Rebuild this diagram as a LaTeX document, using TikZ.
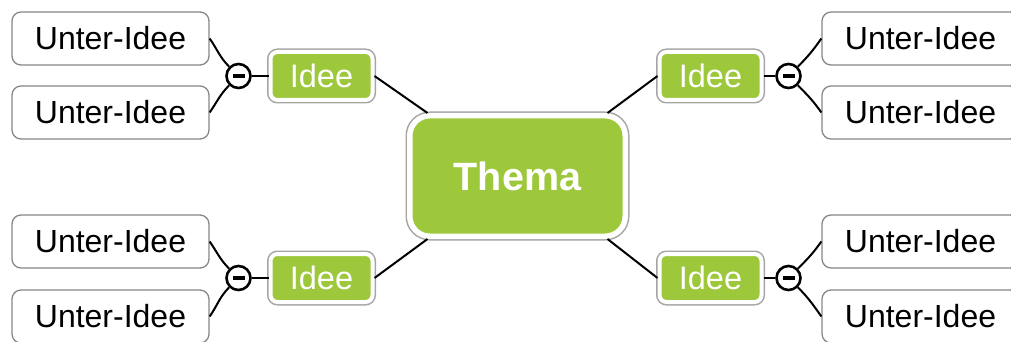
\documentclass[tikz,border=0pt]{standalone}
\usepackage{fontspec}
\setmainfont{Liberation Sans}
\definecolor{mapgreen}{RGB}{157,200,60}
\definecolor{framegray}{RGB}{165,165,165}
\definecolor{boxgray}{RGB}{135,135,135}
\tikzset{
  subidea/.style={draw=boxgray, line width=1.3pt, fill=white, rounded corners=9pt,
    minimum width=197pt, minimum height=53pt, inner sep=0pt,
    font=\fontsize{32}{32}\selectfont},
  idea/.style={fill=mapgreen, draw=white, line width=4pt, rounded corners=7pt,
    preaction={draw=framegray, line width=7pt},
    minimum width=102pt, minimum height=48pt, inner sep=0pt, text=white,
    font=\fontsize{32.5}{32.5}\selectfont},
  topic/.style={fill=mapgreen, draw=white, line width=5.5pt, rounded corners=20pt,
    preaction={draw=framegray, line width=8.5pt},
    minimum width=215.5pt, minimum height=120.5pt, inner sep=0pt, text=white,
    font=\bfseries\fontsize{39.5}{39.5}\selectfont},
  fold/.style={circle, draw, line width=2.6pt, fill=white, minimum size=24pt, inner sep=0pt},
  link/.style={line width=2pt}
}
\begin{document}
\begin{tikzpicture}[x=1pt, y=1pt]
\useasboundingbox (0,0) rectangle (1011,-342);
% Draw main topic
\node[topic] (thema) at (517.5,-176) {Thema};
% Draw ideas
\node[idea] (ideaTL) at (321.5,-76) {Idee};
\node[idea] (ideaBL) at (321.5,-278) {Idee};
\node[idea] (ideaTR) at (710.5,-76) {Idee};
\node[idea] (ideaBR) at (710.5,-278) {Idee};
% Draw fold markers
\node[fold] (foldTL) at (238.5,-76) {\rule[-1.75pt]{12pt}{3.5pt}};
\node[fold] (foldBL) at (238.5,-278) {\rule[-1.75pt]{12pt}{3.5pt}};
\node[fold] (foldTR) at (788.5,-76) {\rule[-1.75pt]{12pt}{3.5pt}};
\node[fold] (foldBR) at (788.5,-278) {\rule[-1.75pt]{12pt}{3.5pt}};
% Draw sub-ideas
\node[subidea] (subTLa) at (110.5,-38.5) {Unter-Idee};
\node[subidea] (subTLb) at (110.5,-112.5) {Unter-Idee};
\node[subidea] (subBLa) at (110.5,-241.5) {Unter-Idee};
\node[subidea] (subBLb) at (110.5,-316.5) {Unter-Idee};
\node[subidea] (subTRa) at (920.5,-38.5) {Unter-Idee};
\node[subidea] (subTRb) at (920.5,-112.5) {Unter-Idee};
\node[subidea] (subBRa) at (920.5,-241.5) {Unter-Idee};
\node[subidea] (subBRb) at (920.5,-316.5) {Unter-Idee};
% Connect topic and ideas
\draw[link] (ideaTL.east) -- (thema.145);
\draw[link] (ideaBL.east) -- (thema.215);
\draw[link] (ideaTR.west) -- (thema.35);
\draw[link] (ideaBR.west) -- (thema.325);
% Connect ideas and fold markers
\draw[link] (foldTL) -- (ideaTL);
\draw[link] (foldBL) -- (ideaBL);
\draw[link] (foldTR) -- (ideaTR);
\draw[link] (foldBR) -- (ideaBR);
% Connect fold markers and sub-ideas
\draw[link] (subTLa.east) to[out=-55, in=135] (foldTL);
\draw[link] (subTLb.east) to[out=55, in=-135] (foldTL);
\draw[link] (subBLa.east) to[out=-55, in=135] (foldBL);
\draw[link] (subBLb.east) to[out=55, in=-135] (foldBL);
\draw[link] (foldTR) to[out=45, in=-125] (subTRa.west);
\draw[link] (foldTR) to[out=-45, in=125] (subTRb.west);
\draw[link] (foldBR) to[out=45, in=-125] (subBRa.west);
\draw[link] (foldBR) to[out=-45, in=125] (subBRb.west);
\end{tikzpicture}
\end{document}
